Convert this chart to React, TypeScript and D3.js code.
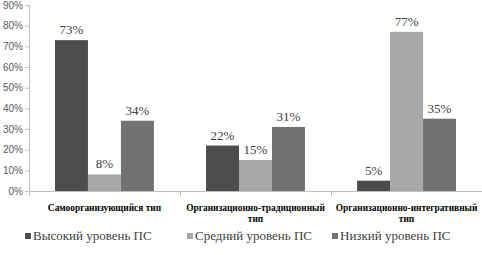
import * as d3 from "d3";

const categories = [
  ["Самоорганизующийся тип"],
  ["Организационно-традиционный", "тип"],
  ["Организационно-интегративный", "тип"],
];
const seriesNames = ["Высокий уровень ПС", "Средний уровень ПС", "Низкий уровень ПС"];
const seriesColors = ["#4d4d4d", "#a8a8a8", "#727272"];
const high = [73, 22, 5];
const middle = [8, 15, 77];
const low = [34, 31, 35];
const yTicks = [0, 10, 20, 30, 40, 50, 60, 70, 80, 90];

export default function App() {
  const width = 482;
  const height = 255;
  const m = { left: 29, right: 0, top: 5, bottom: 64 };
  const values = [high, middle, low];

  const x0 = d3
    .scaleBand<number>()
    .domain(d3.range(categories.length))
    .range([m.left, width - m.right])
    .paddingInner(0.345)
    .paddingOuter(0.172);
  const x1 = d3
    .scaleBand<number>()
    .domain(d3.range(seriesNames.length))
    .range([0, x0.bandwidth()]);
  const y = d3.scaleLinear().domain([0, 90]).range([height - m.bottom, m.top]);

  const step = (width - m.right - m.left) / categories.length;
  const serif = "Liberation Serif";

  return (
    <svg
      width={width}
      height={height}
      style={{ position: "absolute", left: 0, top: 0, background: "#fff" }}
    >
      {/* ось Y */}
      <line x1={m.left + 0.5} x2={m.left + 0.5} y1={m.top} y2={y(0)} stroke="#bfbfbf" />
      {yTicks.map((t) => (
        <g key={t}>
          <line x1={m.left - 4} x2={m.left} y1={y(t) + 0.5} y2={y(t) + 0.5} stroke="#bfbfbf" />
          <text
            x={m.left - 6}
            y={y(t) + 3.5}
            textAnchor="end"
            fontSize={10}
            fontFamily="Liberation Sans"
            fill="#595959"
          >
            {t}%
          </text>
        </g>
      ))}
      {/* ось X */}
      <line x1={m.left} x2={width - m.right} y1={y(0) + 0.5} y2={y(0) + 0.5} stroke="#bfbfbf" />
      {d3.range(categories.length + 1).map((i) => (
        <line
          key={i}
          x1={m.left + i * step + 0.5}
          x2={m.left + i * step + 0.5}
          y1={y(0)}
          y2={y(0) + 5}
          stroke="#bfbfbf"
        />
      ))}

      {categories.map((c, ci) => (
        <g key={ci} transform={`translate(${x0(ci)},0)`}>
          {values.map((s, si) => (
            <g key={si}>
              <rect
                x={x1(si)}
                y={y(s[ci])}
                width={x1.bandwidth()}
                height={y(0) - y(s[ci])}
                fill={seriesColors[si]}
              />
              <text
                x={(x1(si) ?? 0) + x1.bandwidth() / 2}
                y={y(s[ci]) - 6}
                textAnchor="middle"
                fontSize={13}
                fontFamily={serif}
                fill="#404040"
              >
                {s[ci]}%
              </text>
            </g>
          ))}
          {c.map((line, li) => (
            <text
              key={li}
              x={x0.bandwidth() / 2}
              y={y(0) + 20 + li * 11}
              textAnchor="middle"
              fontSize={9.4}
              fontWeight="bold"
              fontFamily={serif}
              fill="#000"
            >
              {line}
            </text>
          ))}
        </g>
      ))}

      {/* легенда */}
      {seriesNames.map((n, i) => {
        const lx = [25, 187, 332][i];
        return (
          <g key={n} transform={`translate(${lx},240)`}>
            <rect x={0} y={-7} width={6} height={6} fill={seriesColors[i]} />
            <text x={8} y={0} fontSize={13} fontFamily={serif} fill="#404040">
              {n}
            </text>
          </g>
        );
      })}
    </svg>
  );
}
